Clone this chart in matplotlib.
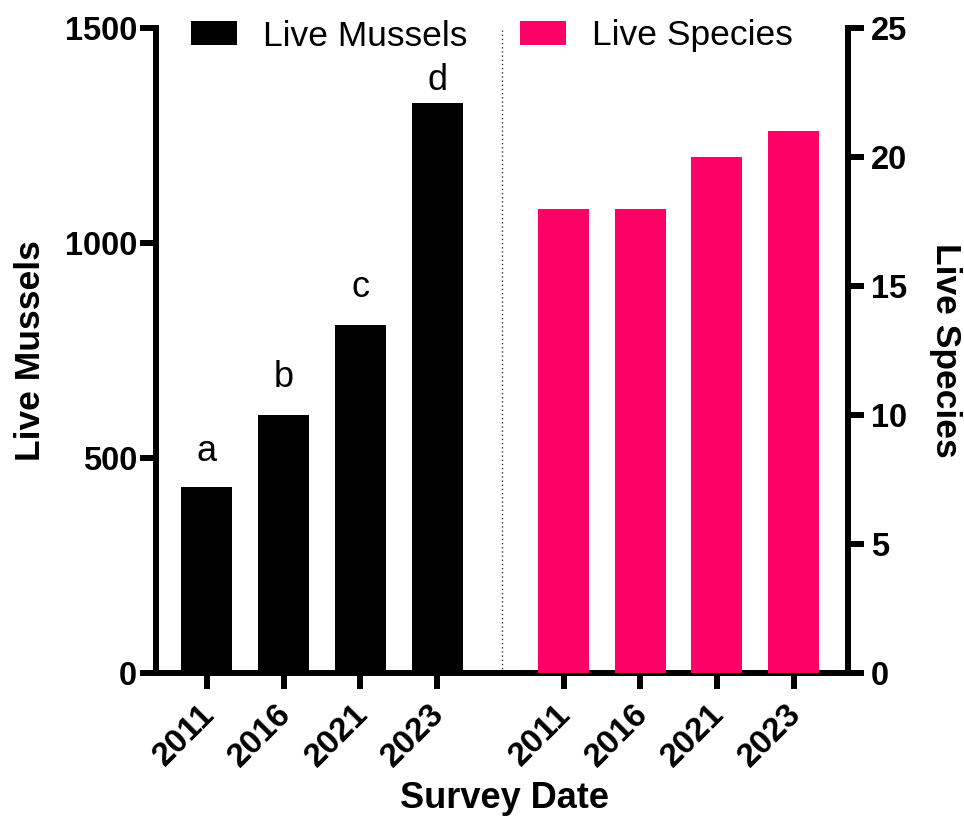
import matplotlib
matplotlib.use("Agg")
import matplotlib.pyplot as plt
import numpy as np

plt.rcParams['font.family'] = ['Liberation Sans', 'DejaVu Sans']

# ---- data ----
years = ["2011", "2016", "2021", "2023"]
live_mussels = [432, 600, 809, 1326]
live_species = [18, 18, 20, 21]
sig_letters = ["a", "b", "c", "d"]
mussel_ticks = [0, 500, 1000, 1500]
species_ticks = [0, 5, 10, 15, 20, 25]

BLACK = "#000000"
PINK = "#FF0066"

# ---- positions / styles ----
x_left = np.arange(len(years), dtype=float)
x_right = x_left + 4.65
divider_x = 3.85
letter_offsets_pt = [19, 20, 20, 9.5]

W, H = 964, 827
fig = plt.figure(figsize=(W / 100, H / 100), dpi=100)
l, r = 156 / W, 848 / W
b, t = 1 - 673 / H, 1 - 28 / H
ax = fig.add_axes([l, b, r - l, t - b])
ax2 = ax.twinx()

bw = 0.665
lw_spine = 4.3
ax.bar(x_left, live_mussels, width=bw, color=BLACK, label="Live Mussels", zorder=3)
ax2.bar(x_right, live_species, width=bw, color=PINK, label="Live Species", zorder=3)

for xi, v, s, off in zip(x_left, live_mussels, sig_letters, letter_offsets_pt):
    ax.annotate(s, (xi, v), xytext=(0, off), textcoords="offset points",
                ha="center", va="baseline", fontsize=26)

ax.axvline(divider_x, color="#333333", lw=1.0, ls=(0, (1, 2)), zorder=1)

ax.set_xlim(-0.665, 8.36)
ax.set_ylim(0, 1500)
ax2.set_ylim(0, 25)
ax.set_yticks(mussel_ticks)
ax2.set_yticks(species_ticks)
ax.set_xticks(np.concatenate([x_left, x_right]))
ax.set_xticklabels(years + years, rotation=45, ha="right", va="center",
                   rotation_mode="anchor", fontsize=24, fontweight="bold")

for a in (ax, ax2):
    a.spines["top"].set_visible(False)
    for s in ("left", "right", "bottom"):
        a.spines[s].set_linewidth(lw_spine)
        a.spines[s].set_capstyle("projecting")
    a.tick_params(axis="both", length=11.5, width=lw_spine, direction="out")
ax.spines["right"].set_visible(False)
ax2.spines["left"].set_visible(False)
ax2.spines["bottom"].set_visible(False)

ax.tick_params(axis="y", labelsize=23.5, pad=2)
ax.tick_params(axis="x", pad=15)
ax2.tick_params(axis="y", labelsize=23.5, pad=5)
for lab in ax.get_yticklabels() + ax2.get_yticklabels():
    lab.set_fontweight("bold")
# nudge x tick labels slightly right
import matplotlib.transforms as mtransforms
shift = mtransforms.ScaledTranslation(3 / 100, 0, fig.dpi_scale_trans)
for lab in ax.get_xticklabels():
    lab.set_transform(lab.get_transform() + shift)

ax.set_ylabel("Live Mussels", fontsize=25.5, fontweight="bold")
ax.yaxis.set_label_coords(-0.1575, 0.5)
ax2.set_ylabel("Live Species", fontsize=25.5, fontweight="bold", rotation=270, va="bottom")
ax2.yaxis.set_label_coords(1.117, 0.5)
ax.set_xlabel("Survey Date", fontsize=26, fontweight="bold")
ax.xaxis.set_label_coords(0.504, -0.167)

h1, l1 = ax.get_legend_handles_labels()
h2, l2 = ax2.get_legend_handles_labels()
fig.legend(h1 + h2, l1 + l2, ncol=2, loc="center left", bbox_to_anchor=(191 / W, 1 - 36 / H),
           frameon=False, fontsize=25.5, handlelength=1.3, handleheight=0.65,
           handletextpad=0.72, columnspacing=1.5, borderpad=0, borderaxespad=0)

fig.savefig("out.png", dpi=100)
